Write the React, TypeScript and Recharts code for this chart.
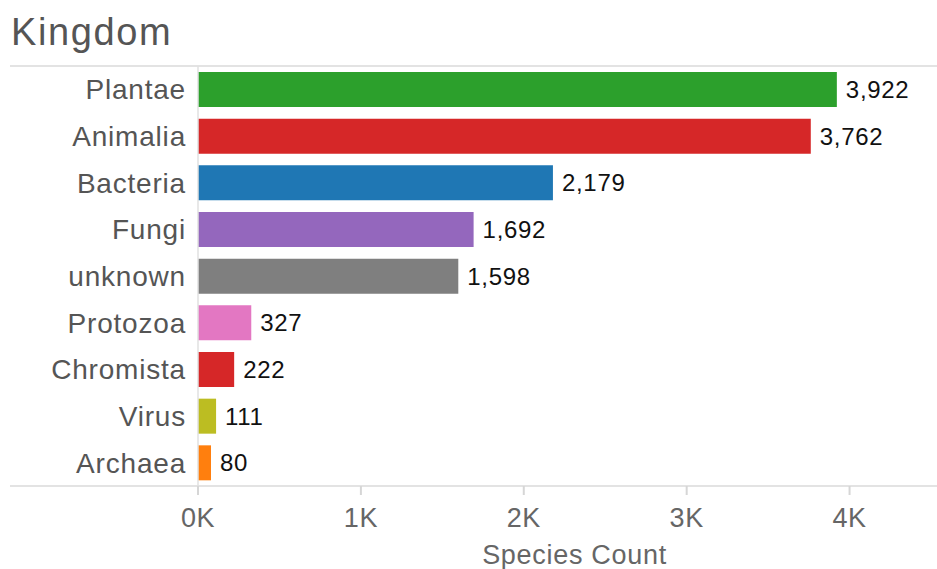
import { Bar, BarChart, Cell, LabelList, XAxis, YAxis } from 'recharts';

const kingdoms = ['Plantae', 'Animalia', 'Bacteria', 'Fungi', 'unknown', 'Protozoa', 'Chromista', 'Virus', 'Archaea'];
const speciesCounts = [3922, 3762, 2179, 1692, 1598, 327, 222, 111, 80];
const barColors = ['#2ca02c', '#d62728', '#1f77b4', '#9467bd', '#7f7f7f', '#e377c2', '#d62728', '#bcbd22', '#ff7f0e'];
const xTicks = [0, 1000, 2000, 3000, 4000];

const FONT = '"Liberation Sans", Arial, Helvetica, sans-serif';

export default function App() {
  const data = kingdoms.map((k, i) => ({ kingdom: k, count: speciesCounts[i] }));

  return (
    <div style={{ position: 'absolute', left: 0, top: 0, width: 937, height: 569, background: '#fff', fontFamily: FONT }}>
      <div style={{ position: 'absolute', left: 11, top: 13, fontSize: 38, lineHeight: '38px', color: '#555', letterSpacing: 1.6 }}>
        Kingdom
      </div>
      {/* frame lines above and below the bars */}
      <div style={{ position: 'absolute', left: 10, top: 65, width: 927, height: 2, background: '#e3e3e3' }} />
      <div style={{ position: 'absolute', left: 10, top: 485, width: 927, height: 2, background: '#e3e3e3' }} />
      <BarChart
        width={937}
        height={569}
        data={data}
        layout="vertical"
        margin={{ top: 66, right: 6, left: 0, bottom: 0 }}
        style={{ position: 'absolute', left: 0, top: 0, fontFamily: FONT }}
      >
        <XAxis
          type="number"
          domain={[0, 4500]}
          ticks={xTicks}
          tickFormatter={v => `${v / 1000}K`}
          height={83}
          axisLine={false}
          tickLine={{ stroke: '#d6d6d6', strokeWidth: 2 }}
          tickSize={9}
          tickMargin={13}
          tick={{ fontSize: 27, fill: '#666', letterSpacing: 0.6 }}
          label={{ value: 'Species Count', position: 'insideBottom', offset: 5, dx: 10, fontSize: 27, fill: '#666', letterSpacing: 0.7 }}
        />
        <YAxis
          type="category"
          dataKey="kingdom"
          width={198}
          axisLine={{ stroke: '#e0e0e0', strokeWidth: 1.5 }}
          tickLine={false}
          tickSize={0}
          tickMargin={12}
          tick={{ fontSize: 28, fill: '#555', letterSpacing: 0.8 }}
        />
        <Bar dataKey="count" barSize={35} isAnimationActive={false}>
          {data.map((d, i) => (
            <Cell key={d.kingdom} fill={barColors[i]} />
          ))}
          <LabelList
            dataKey="count"
            position="right"
            offset={9}
            formatter={(v: number) => v.toLocaleString('en-US')}
            style={{ fontSize: 24, fill: '#111', letterSpacing: 0.7 }}
          />
        </Bar>
      </BarChart>
    </div>
  );
}
